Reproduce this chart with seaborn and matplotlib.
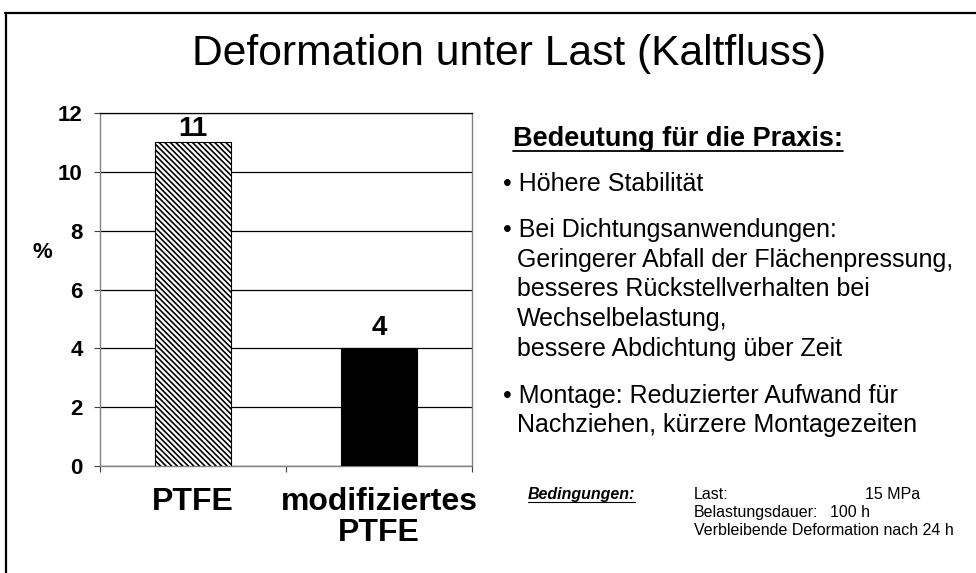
import matplotlib
matplotlib.use("Agg")
import pandas as pd
import seaborn as sns
import matplotlib.pyplot as plt
from matplotlib.lines import Line2D

# data
materials = ["PTFE", "modifiziertes\nPTFE"]
deformation = [11, 4]
bar_colors = ["white", "black"]

title = "Deformation unter Last (Kaltfluss)"
praxis_head = "Bedeutung für die Praxis:"
praxis_lines = [
    ("• Höhere Stabilität", 0),
    ("• Bei Dichtungsanwendungen:", 0),
    ("Geringerer Abfall der Flächenpressung,", 1),
    ("besseres Rückstellverhalten bei", 1),
    ("Wechselbelastung,", 1),
    ("bessere Abdichtung über Zeit", 1),
    ("• Montage: Reduzierter Aufwand für", 0),
    ("Nachziehen, kürzere Montagezeiten", 1),
]
praxis_baselines = [191, 237, 267, 296, 326, 356, 403, 432]
cond_head = "Bedingungen:"
cond_names = ["Last:", "Belastungsdauer:", "Verbleibende Deformation nach 24 h"]
cond_values = ["15 MPa", "100 h", ""]

sns.set_style("white")
plt.rcParams["font.family"] = ["Liberation Sans", "DejaVu Sans"]
for key in ["text.color", "axes.labelcolor", "xtick.color", "ytick.color"]:
    plt.rcParams[key] = "black"
plt.rcParams["hatch.linewidth"] = 1.2

W, H = 976, 573
fig = plt.figure(figsize=(W / 100, H / 100), dpi=100)
ax = fig.add_axes([100 / W, 1 - 466 / H, 372 / W, 353 / H])

df = pd.DataFrame({"material": materials, "deformation": deformation})
sns.barplot(data=df, x="material", y="deformation", hue="material",
            palette=bar_colors, legend=False, width=0.41,
            edgecolor="black", linewidth=0.8, ax=ax, zorder=3)
ax.patches[0].set_hatch("\\" * 6)

for cont, pad in zip(ax.containers, [0.5, 5]):
    ax.bar_label(cont, fmt="%d", padding=pad, fontsize=20, fontweight="bold")

ax.set_xlim(-0.5, 1.5)
ax.set_ylim(0, 12)
ax.set_yticks(range(0, 13, 2))
ax.yaxis.grid(True, color="black", linewidth=0.9, zorder=0)
ax.set_axisbelow(True)
for side in ["left", "bottom", "right"]:
    ax.spines[side].set_color("#808080")
    ax.spines[side].set_linewidth(1.0)
ax.spines["top"].set_color("black")
ax.spines["top"].set_linewidth(0.9)

ax.tick_params(axis="y", left=True, length=4.5, width=0.8, color="#404040",
               pad=8, labelsize=16)
for lab in ax.get_yticklabels():
    lab.set_fontweight("bold")
ax.set_xticks([-0.5, 0.5, 1.5], minor=True)
ax.tick_params(axis="x", which="minor", bottom=True, length=4, width=0.8,
               color="#404040")
ax.tick_params(axis="x", which="major", bottom=False, length=0, pad=15,
               labelsize=23)
for lab in ax.get_xticklabels():
    lab.set_fontweight("bold")
    lab.set_linespacing(1.05)

ax.set_xlabel("")
ax.set_ylabel("%", rotation=0, fontsize=16, fontweight="bold")
ax.yaxis.set_label_coords((42 - 100) / 372, (466 - 263) / 353)

# title
fig.text(0.5 * (193 + 826) / W, 1 - 65 / H, title, ha="center", va="baseline",
         fontsize=30.7)

# right hand text block
head = fig.text(513 / W, 1 - 146.5 / H, praxis_head, ha="left", va="baseline",
                fontsize=19.5, fontweight="bold")
for (txt, indent), yb in zip(praxis_lines, praxis_baselines):
    x = 503 if indent == 0 else 517
    fig.text(x / W, 1 - yb / H, txt, ha="left", va="baseline", fontsize=18)

chead = fig.text(528 / W, 1 - 499 / H, cond_head, ha="left", va="baseline",
                 fontsize=11.5, fontweight="bold", style="italic")
for i, (name, val) in enumerate(zip(cond_names, cond_values)):
    yb = 499 + 18 * i
    fig.text(694 / W, 1 - yb / H, name, ha="left", va="baseline", fontsize=11.5)
    if val:
        xv = 865 if i == 0 else 830
        fig.text(xv / W, 1 - yb / H, val, ha="left", va="baseline", fontsize=11.5)

# underlines below headings
fig.canvas.draw()
r = fig.canvas.get_renderer()
for t, off, lw in [(head, 4, 1.3), (chead, 2.5, 0.8)]:
    bb = t.get_window_extent(r)
    xb0, xb1 = bb.x0 / W, bb.x1 / W
    _, yb = fig.transFigure.inverted().transform(t.get_transform().transform(t.get_position()))
    yl = yb - off / H
    fig.add_artist(Line2D([xb0, xb1], [yl, yl], color="black", linewidth=lw,
                          transform=fig.transFigure))

# slide frame (top and left edges)
fig.add_artist(Line2D([5 / W, 1], [1 - 12.5 / H, 1 - 12.5 / H], color="black",
                      linewidth=1.6, transform=fig.transFigure))
fig.add_artist(Line2D([6 / W, 6 / W], [0, 1 - 12.5 / H], color="black",
                      linewidth=1.6, transform=fig.transFigure))

fig.savefig("out.png", dpi=100)
